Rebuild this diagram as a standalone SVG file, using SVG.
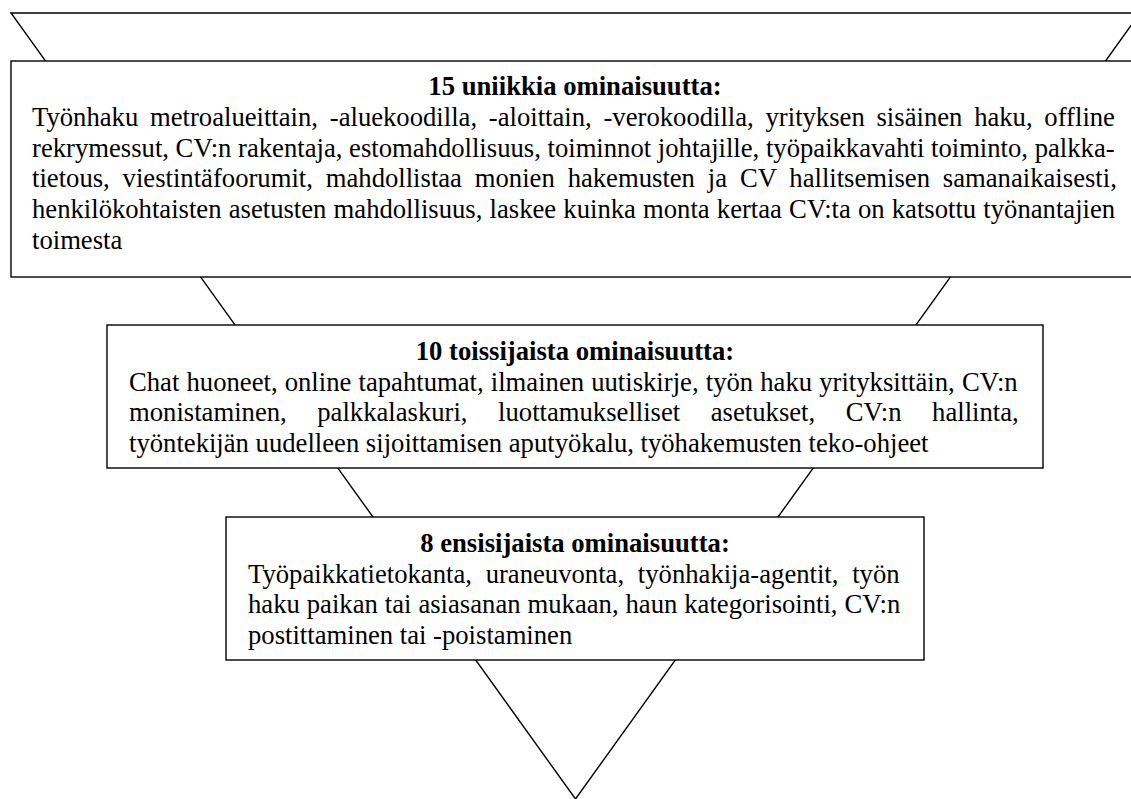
<svg xmlns="http://www.w3.org/2000/svg" width="1131" height="799" viewBox="0 0 1131 799">
<style>
.box{fill:#fff;stroke:#000;stroke-width:1.4}
.ln{fill:none;stroke:#000;stroke-width:1.4;stroke-linejoin:miter}
text{font-family:"Liberation Serif","Times New Roman",serif;font-size:26.67px;fill:#000}
.t{font-weight:bold;text-anchor:middle}
</style>
<rect width="1131" height="799" fill="#fff"/>
<g id="connectors">
<polygon class="ln" points="11,13 1140,13 575.5,799"/>
</g>
<g id="box1">
<rect class="box" x="11" y="61" width="1130" height="216"/>
<text class="t" x="575" y="95.3">15 uniikkia ominaisuutta:</text>
<text x="32" y="126" word-spacing="5.1">Työnhaku metroalueittain, -aluekoodilla, -aloittain, -verokoodilla, yrityksen sisäinen haku, offline</text>
<text x="32" y="156.7">rekrymessut, CV:n rakentaja, estomahdollisuus, toiminnot johtajille, työpaikkavahti toiminto, palkka-</text>
<text x="32" y="187.3" word-spacing="6.2">tietous, viestintäfoorumit, mahdollistaa monien hakemusten ja CV hallitsemisen samanaikaisesti,</text>
<text x="32" y="218" word-spacing="0.5">henkilökohtaisten asetusten mahdollisuus, laskee kuinka monta kertaa CV:ta on katsottu työnantajien</text>
<text x="32" y="248.7">toimesta</text>
</g>
<g id="box2">
<rect class="box" x="107" y="325" width="936" height="143"/>
<text class="t" x="575" y="360">10 toissijaista ominaisuutta:</text>
<text x="129" y="390.7" word-spacing="0.5">Chat huoneet, online tapahtumat, ilmainen uutiskirje, työn haku yrityksittäin, CV:n</text>
<text x="129" y="421.3" word-spacing="23.9">monistaminen, palkkalaskuri, luottamukselliset asetukset, CV:n hallinta,</text>
<text x="129" y="452">työntekijän uudelleen sijoittamisen aputyökalu, työhakemusten teko-ohjeet</text>
</g>
<g id="box3">
<rect class="box" x="226" y="517" width="698" height="143"/>
<text class="t" x="575" y="552">8 ensisijaista ominaisuutta:</text>
<text x="248" y="582.7" word-spacing="7.1">Työpaikkatietokanta, uraneuvonta, työnhakija-agentit, työn</text>
<text x="248" y="613.3" word-spacing="0.3">haku paikan tai asiasanan mukaan, haun kategorisointi, CV:n</text>
<text x="248" y="644">postittaminen tai -poistaminen</text>
</g>
</svg>
